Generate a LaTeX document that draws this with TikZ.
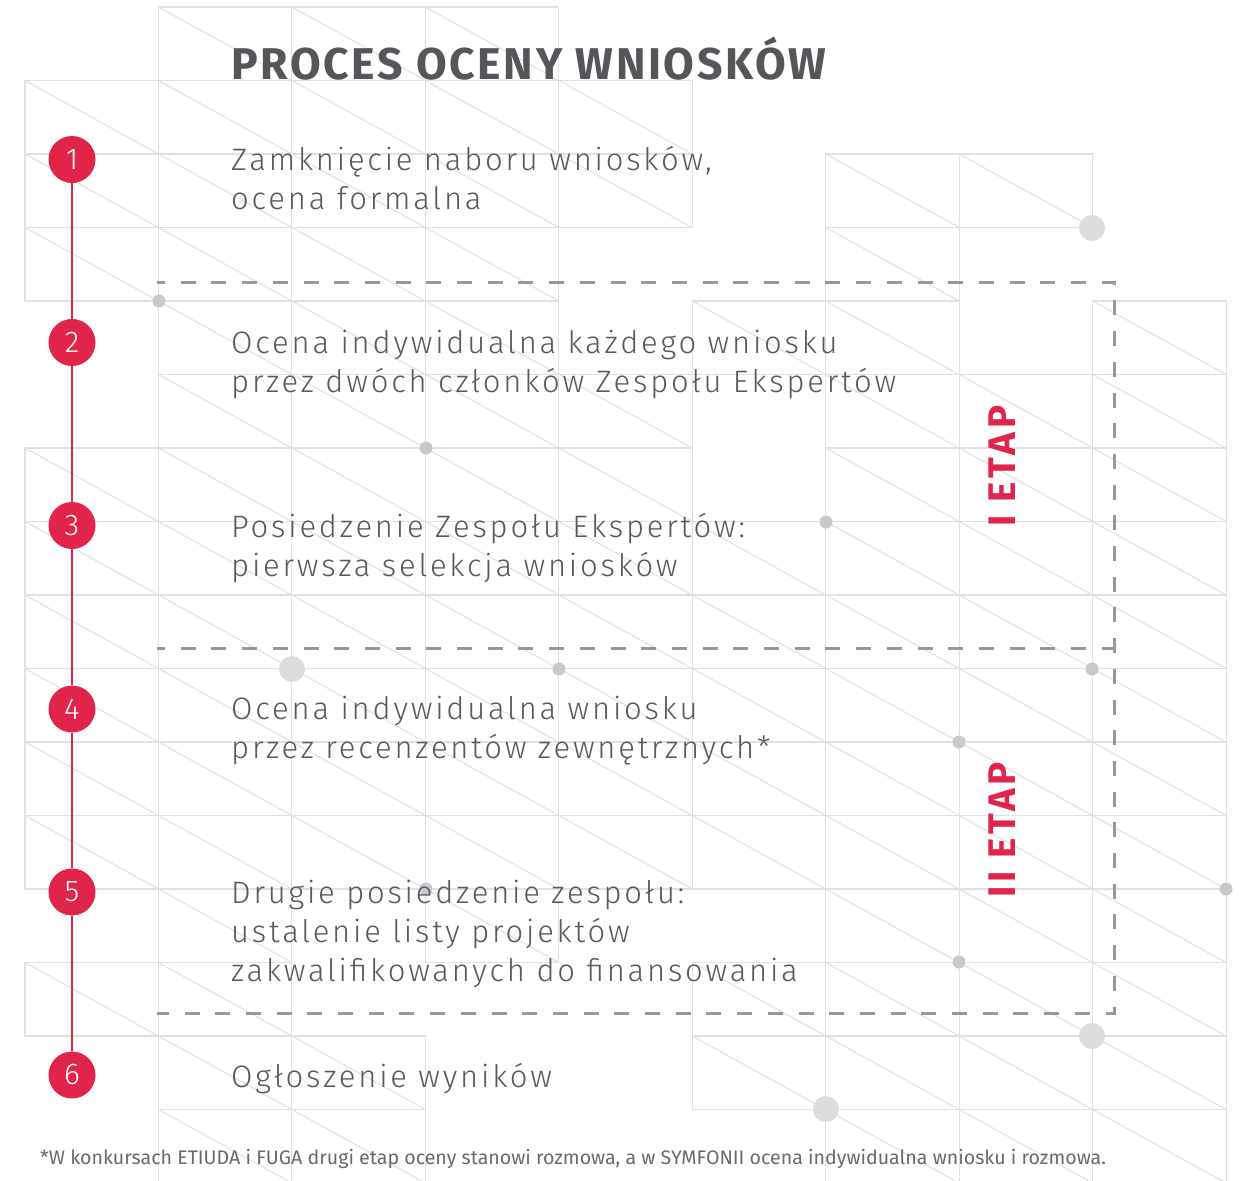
\documentclass[tikz,border=0pt]{standalone}
\usepackage{fontspec}
\setmainfont{Fira Sans}
\newfontfamily\lightf{Fira Sans Light}[LetterSpace=9]
\newfontfamily\numf{Fira Sans Light}
\newfontfamily\titlef{Fira Sans Bold}[LetterSpace=6]
\newfontfamily\etapf{Fira Sans Bold}[LetterSpace=10]
\newfontfamily\notef{Fira Sans}
\definecolor{gridc}{RGB}{224,225,228}
\definecolor{dotlight}{RGB}{220,221,223}
\definecolor{dotdark}{RGB}{200,201,204}
\definecolor{dashc}{RGB}{152,152,154}
\definecolor{redc}{RGB}{225,36,74}
\definecolor{textc}{RGB}{88,89,92}
\definecolor{titlec}{RGB}{85,86,90}
\definecolor{notec}{RGB}{105,106,109}
\tikzset{
  gridline/.style={draw=gridc, line width=1.1},
  dashbox/.style={draw=dashc, line width=3, dash pattern=on 15 off 15.7, dash phase=7},
  numcircle/.style={circle, fill=redc, minimum size=47, inner sep=0, text=white, font=\numf\fontsize{30}{30}\selectfont},
  steptext/.style={anchor=base west, inner sep=0, text=textc, font=\lightf\fontsize{31}{39.5}\selectfont},
  etaptext/.style={rotate=90, inner sep=0, text=redc, font=\etapf\fontsize{38.5}{38.5}\selectfont},
}
\begin{document}
\begin{tikzpicture}[x=1pt,y=-1pt]
\useasboundingbox (0,0) rectangle (1248,1181);
\fill[white] (0,0) rectangle (1248,1181);
% background grid of cells with diagonals
\foreach \r/\cols in {0/{1,2,3},1/{0,1,2,3,4},2/{0,1,2,3,4,6,7},3/{0,1,2,3,6},4/{1,2,3,5,6,8},5/{1,2,3,4,6,7,8},6/{0,1,2,3,4,6,7,8},7/{0,1,2,3,4,5,6,7,8},8/{0,1,2,3,4,5,6,7,8},9/{0,1,2,3,4,5,6,7,8},10/{0,1,2,3,4,5,6,7,8},11/{0,1,2,3,4,5,6,7,8},12/{1,3,6,7,8},13/{0,1,5,6,7,8},14/{1,2,5,6,7,8},15/{1,2,6,7,8}}{
  \foreach \c in \cols {
    \draw[gridline] ({25+133.45*\c},{7+73.5*\r}) rectangle ++(133.45,73.5);
    \draw[gridline] ({25+133.45*\c},{7+73.5*\r}) -- ++(133.45,73.5);
  }
}
% dots
\foreach \x/\y in {1092/228,292/669,1092/1036,826/1109}{\fill[dotlight] (\x,\y) circle (13);}
\foreach \x/\y in {159/301,426/448,826/522,559/669,1092/669,959/742,426/889,1226/889,959/962}{\fill[dotdark] (\x,\y) circle (6.5);}
% dashed frame
\coordinate (d1) at (157,282);
\coordinate (d2) at (1114,282);
\coordinate (d3) at (1114,1013);
\coordinate (d4) at (157,1013);
\coordinate (m1) at (157,648);
\coordinate (m2) at (1114,648);
\draw[dashbox] (d1) -- (d2) -- (d3) -- (d4);
\draw[dashbox] (m1) -- (m2);
% timeline
\node[numcircle] (n1) at (72,159.5) {1};
\node[numcircle] (n2) at (72,342.5) {2};
\node[numcircle] (n3) at (72,525.5) {3};
\node[numcircle] (n4) at (72,709) {4};
\node[numcircle] (n5) at (72,892) {5};
\node[numcircle] (n6) at (72,1075) {6};
\draw[redc, line width=2.6] (n1.south) -- (n2.north) (n2.south) -- (n3.north) (n3.south) -- (n4.north) (n4.south) -- (n5.north) (n5.south) -- (n6.north);
% title
\node[anchor=base west, inner sep=0, text=titlec, font=\titlef\fontsize{44.5}{44.5}\selectfont] (title) at (231,79) {PROCES OCENY WNIOSKÓW};
% step texts
\node[steptext] (t1a) at (231,170) {Zamknięcie naboru wniosków,};
\node[steptext] (t1b) at (231,209) {ocena formalna};
\node[steptext] (t2a) at (231,353) {Ocena indywidualna każdego wniosku};
\node[steptext] (t2b) at (231,392) {przez dwóch członków Zespołu Ekspertów};
\node[steptext] (t3a) at (231,537) {Posiedzenie Zespołu Ekspertów:};
\node[steptext] (t3b) at (231,576) {pierwsza selekcja wniosków};
\node[steptext] (t4a) at (231,719) {Ocena indywidualna wniosku};
\node[steptext] (t4b) at (231,758) {przez recenzentów zewnętrznych*};
\node[steptext] (t5a) at (231,903) {Drugie posiedzenie zespołu:};
\node[steptext] (t5b) at (231,942) {ustalenie listy projektów};
\node[steptext] (t5c) at (231,981) {zakwalifikowanych do finansowania};
\node[steptext] (t6a) at (231,1087) {Ogłoszenie wyników};
% stage labels
\node[etaptext] (e1) at (1002,466) {I ETAP};
\node[etaptext] (e2) at (1002,830) {II ETAP};
% footnote
\node[anchor=base west, inner sep=0, text=notec, font=\notef\fontsize{19.6}{19.6}\selectfont] (note) at (40,1164) {*W konkursach ETIUDA i FUGA drugi etap oceny stanowi rozmowa, a w SYMFONII ocena indywidualna wniosku i rozmowa.};
\end{tikzpicture}
\end{document}
